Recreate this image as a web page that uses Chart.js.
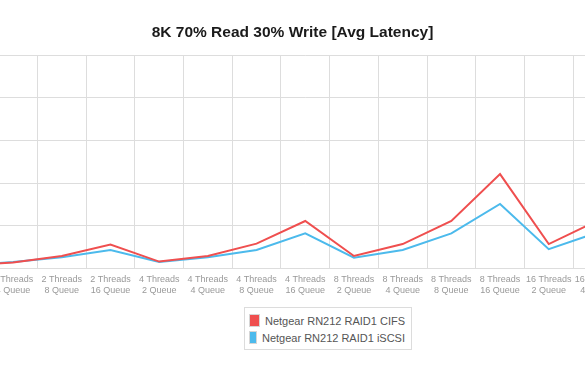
<!DOCTYPE html>
<html>
<head>
<meta charset="utf-8">
<script src="https://cdn.jsdelivr.net/npm/chart.js@4/dist/chart.umd.min.js"></script>
<style>
  body { margin: 0; background: #fff; overflow: hidden; width: 585px; height: 372px; position: relative; }
  #wrap { position: absolute; left: -100px; top: 0; width: 785px; height: 302px; }
  #legend {
    position: absolute; left: 244px; top: 307px; width: 156px;
    border: 1px solid #dcdcdc; padding: 4px 6px 3px 4px;
    font: 11px "Liberation Sans", Arial, sans-serif; color: #555;
  }
  .item { height: 17px; display: flex; align-items: center; white-space: nowrap; }
  .swatch { width: 14px; height: 11px; margin-right: 5px; border: 1px solid #d6d6d6; }
</style>
</head>
<body>
<div id="wrap"><canvas id="latencyChart" width="785" height="302"></canvas></div>
<div id="legend"></div>
<script>
// x categories (threads / queue depth)
const threads = ['2 Threads', '2 Threads', '2 Threads', '2 Threads',
                 '4 Threads', '4 Threads', '4 Threads', '4 Threads',
                 '8 Threads', '8 Threads', '8 Threads', '8 Threads',
                 '16 Threads', '16 Threads', '16 Threads'];
const queues = ['2 Queue', '4 Queue', '8 Queue', '16 Queue',
                '2 Queue', '4 Queue', '8 Queue', '16 Queue',
                '2 Queue', '4 Queue', '8 Queue', '16 Queue',
                '2 Queue', '4 Queue', '8 Queue'];

// avg latency (ms)
const cifs  = [0.7, 1.4, 2.9, 5.6, 1.6, 2.9, 5.8, 11.1, 2.9, 5.7, 11.1, 22.1, 5.7, 11.2, 22.0];
const iscsi = [0.7, 1.5, 2.6, 4.3, 1.5, 2.6, 4.3, 8.2, 2.5, 4.3, 8.2, 15.1, 4.5, 8.4, 15.0];

const yTicks = [0, 10, 20, 30, 40, 50];

const labels = threads.map((t, i) => [t, queues[i]]);
const fontFamily = '"Liberation Sans", Arial, sans-serif';

const ctx = document.getElementById('latencyChart').getContext('2d');
const chart = new Chart(ctx, {
  type: 'line',
  data: {
    labels: labels,
    datasets: [{
      label: 'Netgear RN212 RAID1 CIFS',
      data: cifs,
      borderColor: '#ef4f4f',
      backgroundColor: '#ef4f4f',
      borderWidth: 2,
      pointRadius: 0,
      tension: 0,
      fill: false
    }, {
      label: 'Netgear RN212 RAID1 iSCSI',
      data: iscsi,
      borderColor: '#4cbaec',
      backgroundColor: '#4cbaec',
      borderWidth: 2,
      pointRadius: 0,
      tension: 0,
      fill: false
    }]
  },
  options: {
    responsive: false,
    animation: false,
    devicePixelRatio: 1,
    layout: { padding: { left: 14.5, right: 14.5, top: 0, bottom: 0 } },
    plugins: {
      legend: { display: false },
      tooltip: { enabled: false },
      title: {
        display: true,
        text: '8K 70% Read 30% Write [Avg Latency]',
        color: '#1a1a1a',
        font: { family: fontFamily, size: 15.5, weight: 'bold' },
        padding: { top: 23, bottom: 13.4 }
      }
    },
    scales: {
      x: {
        offset: true,
        grid: { offset: true, color: '#dddddd', drawTicks: false },
        border: { color: '#dddddd' },
        ticks: {
          color: '#999',
          font: { family: fontFamily, size: 9 },
          padding: 6,
          maxRotation: 0,
          autoSkip: false
        }
      },
      y: {
        min: yTicks[0],
        max: yTicks[yTicks.length - 1],
        afterFit: axis => { axis.width = 25.5; },
        afterBuildTicks: axis => { axis.ticks = yTicks.map(v => ({ value: v })); },
        grid: { color: '#dddddd', drawTicks: false },
        border: { display: false },
        ticks: { color: '#999', font: { family: fontFamily, size: 9 } }
      }
    }
  }
});

// html legend, stacked like the original
const legend = document.getElementById('legend');
chart.data.datasets.forEach(ds => {
  const row = document.createElement('div');
  row.className = 'item';
  const sw = document.createElement('span');
  sw.className = 'swatch';
  sw.style.background = ds.borderColor;
  row.appendChild(sw);
  row.appendChild(document.createTextNode(ds.label));
  legend.appendChild(row);
});
</script>
</body>
</html>
